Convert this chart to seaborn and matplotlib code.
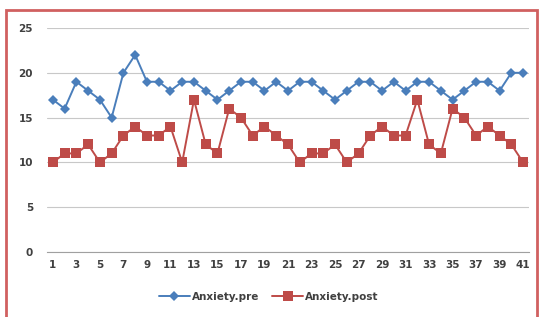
import matplotlib
matplotlib.use("Agg")
import matplotlib.pyplot as plt
import seaborn as sns
import pandas as pd
from matplotlib.patches import Rectangle

# values, one per respondent
respondents = list(range(1, 42))
anxiety_pre = [17, 16, 19, 18, 17, 15, 20, 22, 19, 19, 18, 19, 19,
               18, 17, 18, 19, 19, 18, 19, 18, 19, 19, 18, 17, 18, 19, 19,
               18, 19, 18, 19, 19, 18, 17, 18, 19, 19, 18, 20, 20]
anxiety_post = [10, 11, 11, 12, 10, 11, 13, 14, 13, 13, 14, 10, 17,
                12, 11, 16, 15, 13, 14, 13, 12, 10, 11, 11, 12, 10, 11, 13,
                14, 13, 13, 17, 12, 11, 16, 15, 13, 14, 13, 12, 10]
y_ticks = [0, 5, 10, 15, 20, 25]
x_tick_labels = [str(i) for i in range(1, 42, 2)]

df = pd.DataFrame({
    "respondent": respondents * 2,
    "score": anxiety_pre + anxiety_post,
    "series": ["Anxiety.pre"] * 41 + ["Anxiety.post"] * 41,
})

sns.set_style("white")
plt.rcParams["font.family"] = ["DejaVu Sans"]

fig = plt.figure(figsize=(5.43, 3.17), dpi=100)
ax = fig.add_axes([47 / 543, 1 - 252 / 317, 482 / 543, 224 / 317])

sns.lineplot(
    data=df, x="respondent", y="score", hue="series", style="series",
    palette={"Anxiety.pre": "#4a7ebb", "Anxiety.post": "#be4b48"},
    markers={"Anxiety.pre": "D", "Anxiety.post": "s"},
    dashes=False, markersize=5, linewidth=1.4, markeredgewidth=0,
    ax=ax, legend=True,
)
# the post markers are larger squares
for line in ax.lines:
    if line.get_color() == "#be4b48":
        line.set_markersize(7.5)

ax.set_xlim(0.5, 41.5)
ax.set_ylim(0, 25)
ax.set_yticks(y_ticks)
ax.set_yticklabels([str(v) for v in y_ticks], fontsize=7.5, fontweight="bold", color="#404040")
ax.set_xticks(range(1, 42, 2))
ax.set_xticklabels(x_tick_labels, fontsize=7.5, fontweight="bold", color="#404040")
ax.set_xticks([i + 0.5 for i in range(0, 42)], minor=True)
ax.tick_params(axis="x", which="major", length=0, pad=6)
ax.tick_params(axis="x", which="minor", length=3, color="#a0a0a0", direction="out")
ax.tick_params(axis="y", length=0, pad=10)
ax.set_xlabel("")
ax.set_ylabel("")

# horizontal gridlines, Excel style
ax.yaxis.grid(True, color="#c8c8c8", linewidth=0.8)
ax.set_axisbelow(True)
for side in ["top", "right", "left"]:
    ax.spines[side].set_visible(False)
ax.spines["bottom"].set_color("#a0a0a0")
ax.spines["bottom"].set_linewidth(0.8)

# legend centred under the plot
handles, labels = ax.get_legend_handles_labels()
ax.legend(handles, labels, loc="center", bbox_to_anchor=(0.46, -0.2),
          ncol=2, frameon=False, handlelength=3, handletextpad=0.2,
          prop={"weight": "bold", "size": 7.5}, columnspacing=1.2)
for txt in ax.get_legend().get_texts():
    txt.set_color("#404040")

# reddish frame around the chart
fig.patches.append(Rectangle((6 / 543, -0.05), 531 / 543, 1 - 10 / 317 + 0.05,
                             transform=fig.transFigure, fill=False,
                             edgecolor="#d06060", linewidth=2))

fig.savefig("out.png", dpi=100)
